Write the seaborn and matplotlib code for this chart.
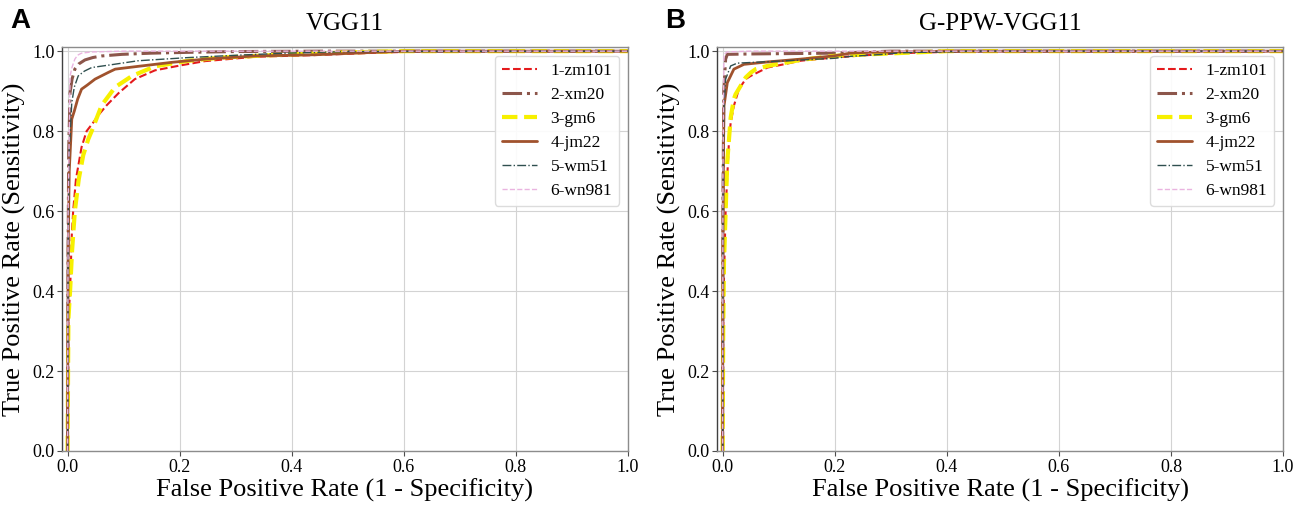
import numpy as np
import pandas as pd
import matplotlib
matplotlib.use('Agg')
import matplotlib.pyplot as plt
import seaborn as sns

# ── ROC points (fpr, tpr) ────────────────────────────────────────────────────
CLASSES = ["1-zm101", "2-xm20", "3-gm6", "4-jm22", "5-wm51", "6-wn981"]
PANELS  = ["VGG11", "G-PPW-VGG11"]

# VGG11
vgg_fpr_zm101 = [0, 0.0015, 0.0045, 0.0075, 0.010, 0.015, 0.025, 0.034, 0.045, 0.055,
                 0.07, 0.091, 0.12, 0.156, 0.204, 0.245, 0.335, 0.44, 0.55, 0.65, 1.0]
vgg_tpr_zm101 = [0, 0.33, 0.40, 0.54, 0.60, 0.68, 0.76, 0.80, 0.82, 0.84,
                 0.865, 0.895, 0.93, 0.952, 0.965, 0.975, 0.986, 0.99, 0.996, 1.0, 1.0]
vgg_fpr_xm20  = [0, 0.001, 0.002, 0.0045, 0.008, 0.013, 0.02, 0.031, 0.045, 0.061,
                 0.097, 0.15, 0.215, 0.3, 0.45, 1.0]
vgg_tpr_xm20  = [0, 0.5, 0.75, 0.896, 0.93, 0.955, 0.968, 0.978, 0.984, 0.988,
                 0.992, 0.995, 0.997, 0.999, 1.0, 1.0]
vgg_fpr_gm6   = [0, 0.0015, 0.0045, 0.008, 0.013, 0.02, 0.028, 0.037, 0.043, 0.061,
                 0.085, 0.115, 0.156, 0.216, 0.275, 0.364, 0.5, 0.6, 1.0]
vgg_tpr_gm6   = [0, 0.33, 0.40, 0.50, 0.60, 0.68, 0.74, 0.78, 0.80, 0.865,
                 0.91, 0.938, 0.962, 0.976, 0.984, 0.99, 0.997, 1.0, 1.0]
vgg_fpr_jm22  = [0, 0.001, 0.003, 0.0075, 0.012, 0.018, 0.025, 0.035, 0.049, 0.073,
                 0.085, 0.126, 0.186, 0.245, 0.335, 0.44, 0.6, 1.0]
vgg_tpr_jm22  = [0, 0.5, 0.7, 0.83, 0.85, 0.88, 0.905, 0.915, 0.93, 0.947,
                 0.955, 0.962, 0.972, 0.98, 0.988, 0.991, 1.0, 1.0]
vgg_fpr_wm51  = [0, 0.001, 0.003, 0.0075, 0.012, 0.019, 0.03, 0.043, 0.073, 0.126,
                 0.216, 0.305, 0.39, 0.5, 1.0]
vgg_tpr_wm51  = [0, 0.5, 0.75, 0.871, 0.91, 0.938, 0.95, 0.959, 0.965, 0.976,
                 0.984, 0.99, 0.995, 0.999, 1.0]
vgg_fpr_wn981 = [0, 0.001, 0.0045, 0.008, 0.013, 0.018, 0.025, 0.043, 0.1, 1.0]
vgg_tpr_wn981 = [0, 0.6, 0.938, 0.96, 0.98, 0.99, 0.995, 0.998, 1.0, 1.0]

# G-PPW-VGG11
ppw_fpr_zm101 = [0, 0.001, 0.0024, 0.0053, 0.011, 0.0143, 0.020, 0.029, 0.041, 0.05,
                 0.08, 0.109, 0.139, 0.198, 0.258, 0.317, 0.45, 1.0]
ppw_tpr_zm101 = [0, 0.3, 0.433, 0.6, 0.767, 0.821, 0.863, 0.905, 0.93, 0.938,
                 0.959, 0.967, 0.976, 0.984, 0.99, 0.995, 1.0, 1.0]
ppw_fpr_xm20  = [0, 0.0005, 0.002, 0.0053, 0.0083, 0.05, 0.2, 0.3, 1.0]
ppw_tpr_xm20  = [0, 0.6, 0.9, 0.98, 0.992, 0.993, 0.995, 1.0, 1.0]
ppw_fpr_gm6   = [0, 0.001, 0.0024, 0.0083, 0.0143, 0.02, 0.023, 0.041, 0.05, 0.059,
                 0.08, 0.139, 0.198, 0.258, 0.4, 1.0]
ppw_tpr_gm6   = [0, 0.3, 0.474, 0.725, 0.834, 0.88, 0.892, 0.934, 0.946, 0.955,
                 0.963, 0.978, 0.988, 0.992, 1.0, 1.0]
ppw_fpr_jm22  = [0, 0.0005, 0.0015, 0.0024, 0.0083, 0.02, 0.038, 0.08, 0.139, 0.198,
                 0.228, 0.258, 0.4, 1.0]
ppw_tpr_jm22  = [0, 0.5, 0.75, 0.863, 0.921, 0.955, 0.967, 0.973, 0.98, 0.988,
                 0.995, 0.997, 1.0, 1.0]
ppw_fpr_wm51  = [0, 0.0005, 0.002, 0.0053, 0.0143, 0.026, 0.1, 0.198, 0.228, 0.287,
                 0.317, 0.45, 1.0]
ppw_tpr_wm51  = [0, 0.6, 0.85, 0.93, 0.963, 0.97, 0.975, 0.982, 0.987, 0.992,
                 0.996, 1.0, 1.0]
ppw_fpr_wn981 = [0, 0.0005, 0.0024, 0.0083, 0.05, 1.0]
ppw_tpr_wn981 = [0, 0.7, 0.992, 0.998, 1.0, 1.0]

CURVES = {
    "VGG11": [(vgg_fpr_zm101, vgg_tpr_zm101), (vgg_fpr_xm20, vgg_tpr_xm20),
              (vgg_fpr_gm6, vgg_tpr_gm6), (vgg_fpr_jm22, vgg_tpr_jm22),
              (vgg_fpr_wm51, vgg_tpr_wm51), (vgg_fpr_wn981, vgg_tpr_wn981)],
    "G-PPW-VGG11": [(ppw_fpr_zm101, ppw_tpr_zm101), (ppw_fpr_xm20, ppw_tpr_xm20),
                    (ppw_fpr_gm6, ppw_tpr_gm6), (ppw_fpr_jm22, ppw_tpr_jm22),
                    (ppw_fpr_wm51, ppw_tpr_wm51), (ppw_fpr_wn981, ppw_tpr_wn981)],
}

# ── Styles ───────────────────────────────────────────────────────────────────
COLORS = ["#e41a1c", "#8c564b", "#f7f000", "#a0522d", "#2f4f4f", "#eab4e0"]
STYLES = ["--", "-.", "--", "-", "-.", "--"]
WIDTHS = [1.5, 2.2, 3.0, 2.0, 1.0, 1.0]

sns.set_style("whitegrid")
plt.rcParams['font.family'] = ['Liberation Serif', 'DejaVu Serif']
plt.rcParams['text.color'] = 'black'
plt.rcParams['axes.labelcolor'] = 'black'
plt.rcParams['xtick.color'] = 'black'
plt.rcParams['ytick.color'] = 'black'

fig = plt.figure(figsize=(12.99, 5.07), dpi=100)
axes = [fig.add_axes([0.0477, 0.1105, 0.4357, 0.7965]),
        fig.add_axes([0.5520, 0.1105, 0.4357, 0.7965])]

for ax, panel, letter in zip(axes, PANELS, ["A", "B"]):
    for cls, (fpr, tpr), c, ls, lw in zip(CLASSES, CURVES[panel], COLORS, STYLES, WIDTHS):
        df = pd.DataFrame({"fpr": fpr, "tpr": tpr})
        sns.lineplot(data=df, x="fpr", y="tpr", ax=ax, color=c, linestyle=ls,
                     lw=lw, label=cls, sort=False, estimator=None)

    ticks = np.arange(0, 1.01, 0.2)
    ax.set_xlim(-0.01, 1.0)
    ax.set_ylim(0.0, 1.01)
    ax.set_xticks(ticks)
    ax.set_yticks(ticks)
    ax.set_xticklabels([f"{v:.1f}" for v in ticks])
    ax.set_yticklabels([f"{v:.1f}" for v in ticks])
    ax.tick_params(axis="both", labelsize=13, length=3.5, width=0.8,
                   color="0.3", labelcolor="black", pad=2, bottom=True, left=True)
    ax.grid(True, color="#d3d3d3", lw=0.8)
    for side, sp in ax.spines.items():
        sp.set_visible(True)
        sp.set_linewidth(1.0)
        sp.set_color("0.25" if side == "left" else "0.55")

    ax.set_xlabel("False Positive Rate (1 - Specificity)", fontsize=19, labelpad=2)
    ax.set_ylabel("True Positive Rate (Sensitivity)", fontsize=19, labelpad=4)
    ax.set_title(panel, fontsize=18, pad=12, color="black")
    leg = ax.legend(loc="upper right", fontsize=12.5, labelspacing=0.45,
                    frameon=True, fancybox=True, edgecolor="0.85", framealpha=0.9)
    for t in leg.get_texts():
        t.set_color("black")

    pos = ax.get_position()
    fig.text(pos.x0 - 0.04, 0.985, letter, fontsize=20, fontweight="bold",
             family="Liberation Sans", va="top", ha="left", color="black")

plt.savefig("out.png", dpi=100)
plt.close()
